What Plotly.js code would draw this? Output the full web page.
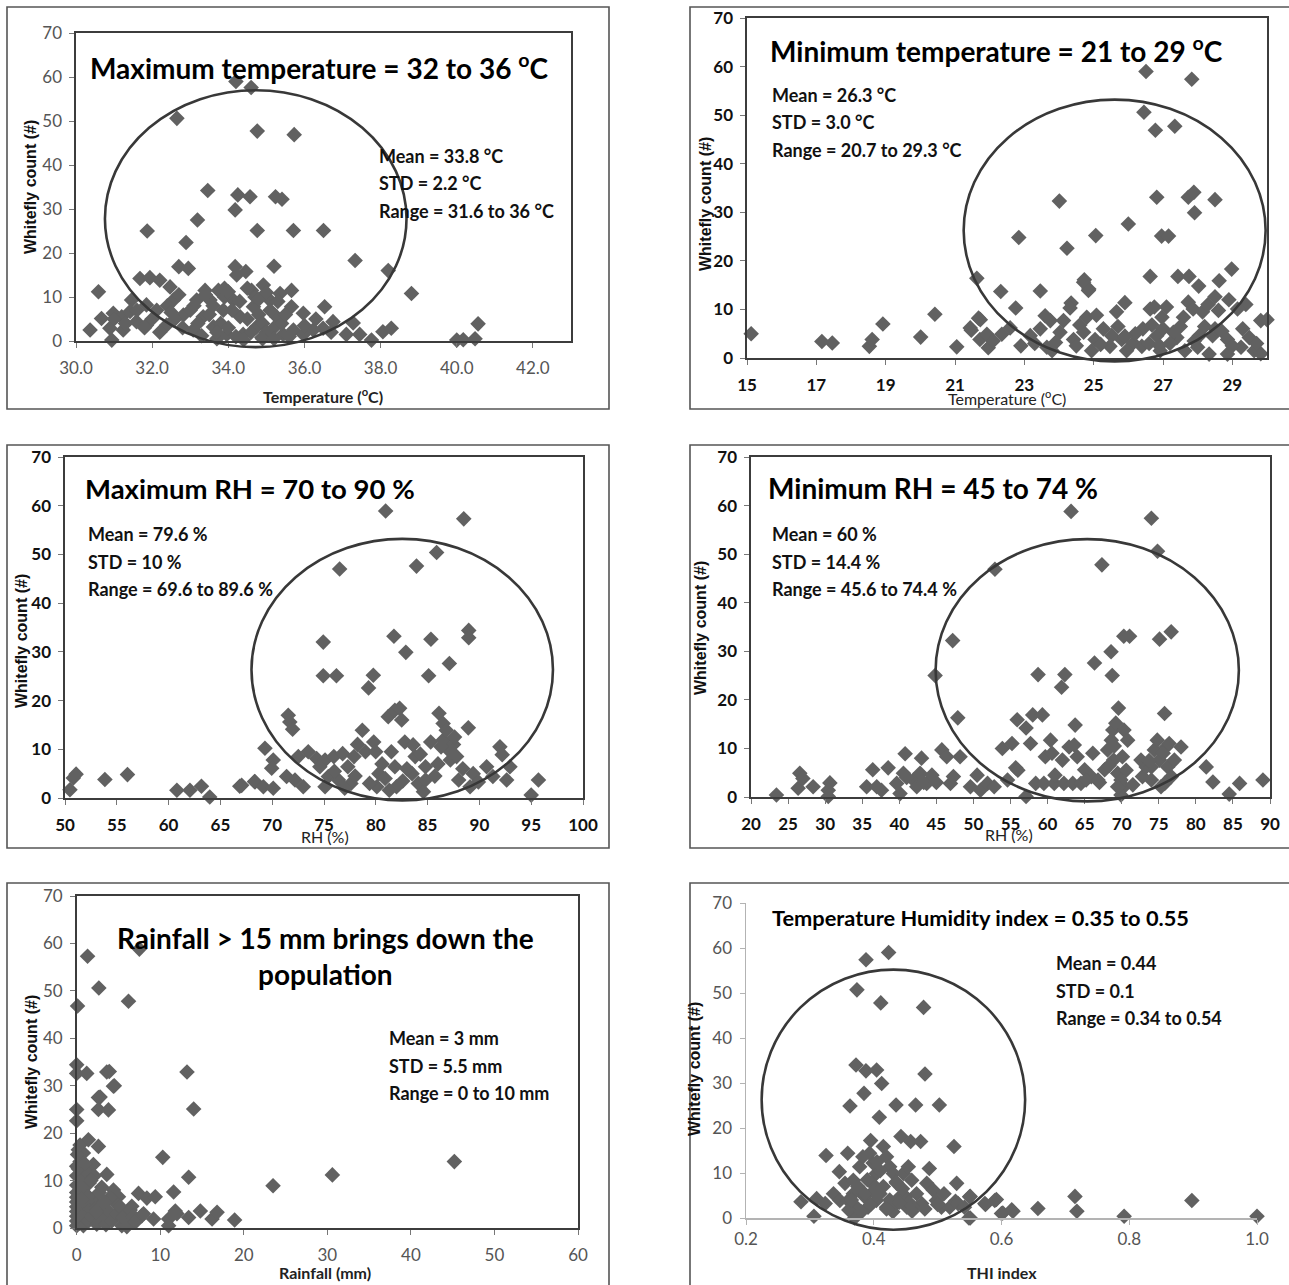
<!DOCTYPE html>
<html>
<head>
<meta charset="utf-8">
<script src="https://cdn.plot.ly/plotly-3.0.1.min.js"></script>
<style>html,body{margin:0;padding:0;background:#fff;}#chart{width:1289px;height:1285px;}</style>
</head>
<body>
<div id="chart"></div>
<script>
// ---------------- DATA ----------------
// Panel 1: maximum temperature (°C) vs whitefly count
const p1x = [34.2,34.6,32.65,34.76,35.73,33.46,34.25,34.57,35.24,35.41,33.19,34.18,31.87,34.76,35.71,36.5,32.89,37.33,32.7,32.95,34.18,34.22,34.46,35.2,38.2,38.81,30.59,
30.37,30.67,30.94,30.89,30.98,31.2,31.24,31.46,31.42,31.59,31.68,31.94,31.85,31.85,32.12,32.2,32.38,32.47,32.56,32.82,33.08,33.17,33.39,33.34,33.52,33.61,33.74,33.87,33.96,34.13,34.31,34.39,34.61,34.66,34.74,34.92,34.88,35.09,35.27,35.36,35.44,35.66,35.66,35.71,35.97,35.97,36.23,36.53,36.49,36.75,37.1,37.28,37.45,37.76,38.06,38.28,40.0,40.17,40.48,40.56,
33.5,33.6,33.8,33.9,34.0,34.1,34.2,34.3,34.5,34.6,34.7,34.8,34.9,35.0,35.1,35.2,35.3,35.4,35.5,35.6,33.2,33.0,32.8,32.6,32.4,32.2,32.0,31.8,31.6,31.3,31.0,33.3,33.7,34.4,34.9,35.2,36.0,36.3,36.7,33.4,34.0,34.8,35.0,33.9,32.7,32.5,33.1,33.7,34.5];
const p1y = [59,57.6,50.6,47.7,46.9,34.2,33.2,32.8,32.8,32.2,27.5,29.8,25.0,25.1,25.1,25.1,22.4,18.3,16.9,16.5,16.9,15.0,15.8,17.0,16.0,10.8,11.2,
2.5,5.1,0.2,2.9,6.3,5.5,2.5,9.3,6.7,4.4,14.2,14.4,8.2,3.6,7.0,13.8,3.6,12.3,9.3,5.9,2.5,9.3,11.5,5.5,9.3,3.2,11.5,7.0,1.5,9.3,5.5,1.5,11.5,7.8,3.2,12.7,0.8,9.3,5.5,10.8,1.5,11.5,7.8,2.5,6.3,1.5,2.5,7.8,2.9,4.4,1.5,4.1,1.5,0.2,2.1,2.9,0.2,0.3,0.5,3.9,
6,8,4,10,3,7,1,9,5,2,10,6,4,2,7,3,9,4,6,1,4,7,3,5,8,2,5,3,7,4,5,1.2,0.5,0.3,0.5,0.5,3.5,5,2,10.5,11.2,9.5,11,12,10.5,6.5,8,2,12];

// Panel 2: minimum temperature (°C)
const p2x = [26.51,27.83,26.45,26.78,27.34,24.01,26.82,27.73,27.89,28.5,27.91,26.0,22.84,25.06,26.96,27.16,24.23,28.98,21.63,26.63,27.43,27.75,28.03,28.62,24.73,24.86,22.32,23.46,22.75,24.35,25.9,26.75,29.39,15.12,17.16,17.46,18.53,18.61,18.92,20.01,20.42,21.05,21.47,21.73,30.0,
21.68,21.44,21.72,21.96,21.92,22.35,22.59,23.17,23.6,23.75,23.46,23.65,24.03,24.13,24.32,24.42,24.71,24.85,24.71,24.8,25.08,25.04,24.94,25.28,25.52,25.66,25.81,26.14,26.39,26.63,26.68,26.82,26.92,26.97,27.4,27.59,27.73,27.87,28.0,28.14,28.33,28.43,28.5,28.6,28.86,29.15,29.25,29.49,29.63,29.82,29.82,28.86,27.63,25.95,25.47,26.42,27.3,28.5,28.05,
22.1,22.9,23.3,23.9,24.5,25.2,25.7,26.2,26.6,27.0,27.2,27.5,27.9,28.2,28.7,29.0,29.3,29.7,27.1,28.3,28.9,26.9,25.9,24.6,23.8];
const p2y = [59.0,57.4,50.6,46.9,47.7,32.3,33.1,33.1,34.1,32.6,29.9,27.6,24.8,25.2,25.1,25.1,22.6,18.3,16.4,16.8,16.8,16.8,14.8,15.9,16.1,14.2,13.7,13.8,10.3,11.3,11.4,10.5,11.0,5.0,3.4,3.1,2.4,3.8,7.0,4.3,9.0,2.3,5.7,7.9,7.9,
8.2,6.2,3.8,2.1,4.9,4.9,6.2,4.6,8.7,7.7,6.0,2.2,5.3,7.7,10.3,3.8,15.6,13.9,5.3,8.4,8.8,3.8,1.5,6.0,4.6,9.5,3.8,3.1,2.4,10.1,6.8,4.6,1.5,8.4,4.2,8.4,11.5,10.1,2.2,9.5,0.8,4.6,12.6,9.8,3.8,10.1,2.2,4.2,1.5,0.9,7.7,0.8,1.5,1.5,2.4,6.0,5.3,6.0,4.6,
3.5,2.5,3.0,3.2,2.5,2.8,6.5,5.0,3.0,6.0,3.0,6.5,3.5,6.5,5.5,2.5,6.0,3.0,10.5,11.0,12.0,2.5,4.5,6.8,1.5];

// Panel 3: maximum RH (%)
const p3x = [80.95,88.49,85.87,76.51,83.93,74.93,81.75,85.32,88.97,88.97,82.9,87.1,74.93,76.2,79.76,79.3,85.1,
50.48,50.8,51.07,53.85,56.03,60.8,62.06,63.17,63.97,66.87,68.3,
71.55,71.7,71.97,69.3,70.1,69.95,67.05,68.34,69.15,70.1,71.39,72.2,73.0,73.48,72.52,74.29,75.1,74.6,75.42,75.1,75.95,76.4,76.8,77.3,77.6,78.24,77.9,78.7,79.0,79.8,79.99,80.3,80.1,80.9,81.2,81.84,82.3,82.5,81.5,81.84,82.0,82.8,83.6,83.8,83.5,84.1,84.6,84.8,85.3,86.1,86.5,86.5,86.99,86.8,87.2,87.5,87.8,88.0,88.93,89.4,89.9,89.1,90.7,91.3,91.98,92.2,92.63,92.95,95.0,95.7,84.8,81.3,
76.0,78.0,80.6,83.0,85.7,86.3,87.6,88.4,84.3,82.6,79.4,77.0,86.0,87.3];
const p3y = [58.9,57.3,50.4,47.0,47.6,32.0,33.2,32.6,34.4,32.9,29.9,27.6,25.1,25.1,25.2,22.6,25.1,
1.7,4.1,4.9,3.8,4.8,1.6,1.6,2.4,0.2,2.4,3.4,
17.0,15.6,14.1,10.2,7.8,6.1,2.6,3.3,2.3,2.0,4.4,3.7,2.3,9.5,8.5,8.1,7.8,6.4,4.4,2.3,8.5,3.7,9.1,6.4,3.0,11.0,8.5,13.9,9.5,11.5,9.5,5.0,2.3,4.0,16.7,18.0,18.4,16.0,9.5,6.4,2.3,11.5,10.9,8.5,5.0,3.0,1.3,6.4,11.5,17.4,15.3,11.9,9.9,13.9,7.8,11.0,8.5,3.7,14.4,5.0,3.3,2.3,6.4,4.4,10.5,8.9,3.7,6.4,0.6,3.7,3.7,1.6,
5.5,4.5,7.0,6.0,4.5,10.5,12.5,6.0,9.0,3.5,3.0,2.0,7.0,9.5];

// Panel 4: minimum RH (%)
const p4x = [63.17,74.0,74.83,52.9,67.33,47.2,70.28,71.06,75.1,76.67,68.56,66.33,44.83,58.72,62.33,68.72,61.89,47.89,69.56,75.78,63.72,
23.43,26.58,26.36,28.38,30.64,30.42,30.42,36.42,35.6,36.96,37.6,38.5,40.79,40.1,40.56,39.65,41.9,42.36,43.0,42.8,43.7,44.4,45.74,46.4,46.9,47.3,48.2,49.6,50.5,50.95,51.9,52.8,53.9,54.6,55.2,55.7,55.9,57.1,57.1,58.0,59.3,57.7,58.4,59.5,59.7,60.4,60.6,60.9,62.2,62.0,62.9,63.6,64.0,63.4,64.5,65.0,65.9,66.1,65.2,67.7,68.1,68.6,68.8,69.2,68.9,69.45,69.9,70.3,70.1,70.3,69.9,70.8,72.6,72.8,73.3,74.0,74.4,74.8,75.1,75.3,76.0,76.2,76.7,77.1,78.0,81.4,82.3,84.5,85.9,89.05,75.8,74.0,69.45,
27.0,41.0,43.3,45.0,56.0,61.0,67.0,68.3,70.6,71.5,73.7,75.6,76.4,69.0,66.8];
const p4y = [58.8,57.4,50.6,46.9,47.8,32.2,33.1,33.1,32.5,34.0,29.9,27.6,25.0,25.2,25.2,25.0,22.6,16.3,18.3,17.2,14.8,
0.4,4.9,1.8,2.1,2.9,1.4,0.1,5.6,2.1,2.1,1.4,6.0,8.9,0.7,4.9,2.8,3.5,2.1,8.0,4.9,2.8,4.5,9.7,8.3,2.8,4.2,8.3,2.1,4.5,1.4,2.8,2.1,10.0,3.5,11.0,6.0,15.9,0.1,14.2,16.9,16.9,11.0,2.8,2.8,8.3,11.7,9.0,2.8,2.8,7.6,10.3,10.7,8.3,2.8,2.8,5.6,4.2,9.0,3.5,5.6,9.7,11.7,13.8,15.2,7.6,4.9,3.5,13.8,8.3,2.1,0.4,11.7,7.6,4.2,6.2,3.5,9.7,11.7,7.6,2.1,10.3,6.2,4.2,7.6,10.3,6.2,3.1,0.6,2.8,3.5,2.8,6.2,2.1,
3.8,4.0,3.0,3.0,5.5,4.5,3.0,6.5,5.5,2.5,7.5,9.0,11.0,10.5,3.5];

// Panel 5: rainfall (mm)
const p5x = [1.3,2.65,0.1,6.2,7.5,3.9,4.5,2.8,45.2,30.6,13.2,14.0,10.3,
0.0,0.0,1.2,3.6,4.4,2.6,2.6,3.8,0.0,0.0,13.4,23.5,1.4,2.6,0.2,0.8,2.0,3.6,4.4,5.0,7.4,8.4,9.4,11.6,6.6,7.8,9.2,11.0,11.8,13.4,14.8,16.2,16.8,18.9,11.0,5.4,6.0,3.4,2.2,1.0,3.0,4.6,5.6,
0,0,0,0,0,0,0,0,0,0,0,0.3,0.3,0.5,0.5,0.6,0.8,0.9,1.0,1.1,1.2,1.4,1.5,1.6,1.8,2.0,2.1,2.4,2.5,2.7,3.0,3.2,3.5,3.8,4.0,4.2,4.8,5.2,5.5,6.0,6.4,6.8,7.0,8.0,0.4,0.7,1.3,1.7,2.3,3.3,0.2,0.6,1.0,0.1,0.4,12.0];
const p5y = [57.3,50.6,46.8,47.8,58.8,33.0,30.0,27.6,14.0,11.2,32.9,25.1,14.9,
34.4,32.6,32.6,32.9,29.9,27.5,25.0,24.9,25.0,22.6,10.7,8.9,18.6,17.2,16.5,15.8,13.4,11.3,8.0,6.6,7.3,6.3,6.6,7.6,4.6,2.6,1.9,1.9,3.6,2.2,3.6,1.9,3.3,1.7,0.5,0.5,1.5,1.9,4.6,6.6,8.6,5.3,3.2,
0.5,1.5,2.5,3.5,4.5,5.5,6.5,7.5,9,11,13,1.0,4.0,2.0,8.0,10.5,0.5,5.5,3.0,12.0,7.0,1.5,9.5,4.0,2.5,6.0,11.0,0.8,4.5,7.5,2.0,5.0,0.7,3.5,6.5,1.5,3.0,4.5,2.2,0.3,3.8,2.5,1.2,3.0,14.0,9.0,6.5,10.0,3.5,5.5,12.5,6.0,13.5,15.5,17.5,3.0];

// Panel 6: THI index
const p6x = [0.4233,0.3879,0.3737,0.411,0.478,0.715,0.718,0.792,0.898,1.0,0.657,0.618,0.602,0.592,0.575,0.551,0.551,0.528,
0.3722,0.3878,0.4045,0.4124,0.4802,0.3847,0.3628,0.4349,0.4656,0.5027,0.4087,0.3951,0.4426,0.4578,0.4734,0.5256,0.3253,0.3592,0.3461,0.487,0.5298,0.2861,0.3064,0.3106,0.324,0.337,0.347,0.355,0.368,0.37,0.378,0.383,0.3935,0.399,0.404,0.4097,0.415,0.42,0.425,0.4306,0.436,0.441,0.4463,0.4541,0.4594,0.467,0.475,0.483,0.493,0.498,0.506,0.519,0.532,0.542,0.55,0.549,0.574,0.5895,0.6,0.616,0.36,0.373,0.386,0.391,0.42,0.43,0.452,0.462,0.404,0.378,0.397,0.368,0.361,0.381,0.43,0.45,0.51,
0.39,0.4,0.41,0.415,0.425,0.435,0.445,0.455,0.405,0.395,0.385,0.375,0.365,0.42,0.44,0.46,0.48,0.5];
const p6y = [59.0,57.4,50.7,47.8,46.8,4.8,1.5,0.4,3.9,0.4,2.1,1.5,1.1,4.1,3.0,4.8,0.0,3.7,
34.0,32.7,32.9,29.9,32.0,27.7,24.9,25.1,25.1,25.1,22.4,17.2,18.1,17.0,17.0,15.9,13.9,14.4,10.3,11.0,7.7,3.6,0.4,4.3,3.2,5.4,3.9,7.7,8.4,0.0,11.4,13.6,14.4,12.2,9.9,5.4,15.9,13.6,11.4,9.9,7.7,4.7,9.9,11.4,8.4,5.4,3.2,7.7,6.2,3.9,2.4,2.4,3.2,2.4,4.7,0.0,3.2,3.9,1.0,1.8,3.9,2.4,4.7,2.4,2.4,2.4,2.4,2.4,3.9,6.2,7.7,5.4,1.8,1.4,1.4,4.7,5.4,
8.5,6.0,10.5,7.0,4.0,8.0,6.5,3.5,12.5,3.0,5.5,7.0,4.0,2.0,3.5,1.5,2.0,3.0];

// Text
const titles = [
  'Maximum temperature = 32 to 36 <sup>o</sup>C',
  'Minimum temperature = 21 to 29 <sup>o</sup>C',
  'Maximum RH = 70 to 90 %',
  'Minimum RH = 45 to 74 %',
  'Rainfall > 15 mm brings down the<br>population',
  'Temperature Humidity index = 0.35 to 0.55'];
const stats = [
  ['Mean = 33.8 °C','STD = 2.2 °C','Range = 31.6 to 36 °C'],
  ['Mean = 26.3 °C','STD = 3.0 °C','Range = 20.7 to 29.3 °C'],
  ['Mean = 79.6 %','STD = 10 %','Range = 69.6 to 89.6 %'],
  ['Mean = 60 %','STD = 14.4 %','Range = 45.6 to 74.4 %'],
  ['Mean = 3 mm','STD = 5.5 mm','Range = 0 to 10 mm'],
  ['Mean = 0.44','STD = 0.1','Range = 0.34 to 0.54']];
const xTitles = ['Temperature (<sup>o</sup>C)','Temperature (<sup>o</sup>C)','RH (%)','RH (%)','Rainfall (mm)','THI index'];
const yTitle = 'Whitefly count (#)';
const xRanges = [[30,43],[15,30],[50,100],[20,90],[0,60],[0.2,1.0]];
const xTicks = [2,2,5,5,10,0.2];
const ellipses = [ // [x0,x1,y0,y1] in data units, null = none
  [30.76,38.68,-1.4,57.0],
  [21.25,29.96,-0.7,53.2],
  [68.0,97.1,-0.5,53.2],
  [44.9,85.8,-0.9,53.1],
  null,
  [0.2245,0.637,-2.6,55.2]];

// ---------------- LAYOUT (pixel geometry) ----------------
const W = 1289, H = 1285;
const NARROW = 'Lato, "Liberation Sans Narrow", sans-serif';
const WIDE = '"Liberation Sans", Arial, sans-serif';
const plotBox = [
  {x0:76, x1:571, y0:33, y1:341},
  {x0:747, x1:1267, y0:18, y1:358},
  {x0:65, x1:583, y0:457, y1:798},
  {x0:751, x1:1270, y0:457, y1:797},
  {x0:76.7, x1:578, y0:896, y1:1228},
  {x0:746, x1:1257, y0:903, y1:1218}];
const outerBox = [
  {x0:7, x1:609, y0:7, y1:409},
  {x0:690, x1:1300, y0:7, y1:409},
  {x0:7, x1:609, y0:445, y1:848},
  {x0:690, x1:1300, y0:445, y1:848},
  {x0:7, x1:609, y0:883, y1:1300},
  {x0:690, x1:1300, y0:883, y1:1300}];
const titlePos = [[319,66,28],[997,50,28],[250,488,27.5],[933,488,28],[325,956,28],[980,917,21.8]];
const statPos = [[377,156],[770,95],[86,534],[770,534],[387,1038],[1054,963]];
const statGap = 27.5;
const xTitlePos = [[323,395,true],[1007,397,false],[325,836,false],[1009,834,false],[325,1272,true],[1002,1272,true]];
const yTitlePos = [[30,187],[705,204],[21,641],[700,628],[31,1062],[694,1069]];
const boldTicks = [false,true,true,true,false,false];

const px = v => v / W;
const py = v => 1 - v / H;

const traces = [];
const xs = [p1x,p2x,p3x,p4x,p5x,p6x];
const ys = [p1y,p2y,p3y,p4y,p5y,p6y];
const layout = {
  width: W, height: H, margin:{l:0,r:0,t:0,b:0},
  paper_bgcolor:'#fff', plot_bgcolor:'rgba(0,0,0,0)', showlegend:false,
  shapes: [], annotations: []
};

for (let i = 0; i < 6; i++) {
  const n = i === 0 ? '' : String(i + 1);
  const b = plotBox[i];
  const last = i === 5;
  const lineCol = last ? '#b3b3b3' : '#3c3c3c';
  const tickCol = boldTicks[i] ? '#111' : '#555';
  const tfont = {family: NARROW, size: 17, color: tickCol, weight: boldTicks[i] ? 'bold' : 'normal'};
  traces.push({
    type:'scatter', mode:'markers', x: xs[i], y: ys[i],
    xaxis:'x'+n, yaxis:'y'+n, cliponaxis:false, hoverinfo:'skip',
    marker:{symbol:'diamond', size:12, color:'#616161', line:{width:0}}
  });
  layout['xaxis'+n] = {
    domain:[px(b.x0), px(b.x1)], anchor:'y'+n, range:xRanges[i], dtick:xTicks[i], tick0:xRanges[i][0],
    tickformat: (i===0 || i===5) ? '.1f' : '', showgrid:false, zeroline:false,
    showline:true, mirror: !last, linecolor:lineCol, linewidth: last ? 1.5 : 1.6,
    ticks:'outside', ticklen:5, tickcolor: last ? '#b3b3b3' : '#777', tickwidth:1,
    tickfont:tfont, ticklabelstandoff: last ? 0 : 6, fixedrange:true
  };
  layout['yaxis'+n] = {
    domain:[py(b.y1), py(b.y0)], anchor:'x'+n, range:[0,70], dtick:10,
    showgrid:false, zeroline:false, showline:true, mirror: !last,
    linecolor:lineCol, linewidth: last ? 1.5 : 1.6,
    ticks:'outside', ticklen:5, tickcolor: last ? '#b3b3b3' : '#777', tickwidth:1,
    tickfont:tfont, ticklabelstandoff:4, fixedrange:true
  };
  // outer panel border
  const o = outerBox[i];
  layout.shapes.push({type:'rect', xref:'paper', yref:'paper',
    x0:px(o.x0), x1:px(o.x1), y0:py(o.y1), y1:py(o.y0),
    line:{color:'#555', width:1.6}, fillcolor:'rgba(0,0,0,0)', layer:'below'});
  // ellipse (converted from data units through the axis mapping so it is not clipped)
  const e = ellipses[i];
  if (e) {
    const r = xRanges[i];
    const fx = v => px(b.x0 + (v - r[0]) / (r[1] - r[0]) * (b.x1 - b.x0));
    const fy = v => py(b.y1 - (v - 0) / 70 * (b.y1 - b.y0));
    layout.shapes.push({type:'circle', xref:'paper', yref:'paper',
      x0:fx(e[0]), x1:fx(e[1]), y0:fy(e[2]), y1:fy(e[3]),
      line:{color:'#383838', width:2.6}, layer:'above'});
  }
  // panel headline
  const t = titlePos[i];
  layout.annotations.push({xref:'paper', yref:'paper', x:px(t[0]), y:py(t[1]),
    xanchor:'center', yanchor:'middle', showarrow:false, text:titles[i],
    font:{family:NARROW, size:t[2], color:'#000', weight:'bold'}});
  // stats
  const s = statPos[i];
  stats[i].forEach((txt, k) => {
    layout.annotations.push({xref:'paper', yref:'paper', x:px(s[0]), y:py(s[1] + k*statGap),
      xanchor:'left', yanchor:'middle', showarrow:false, text:txt,
      font:{family:NARROW, size:18, color:'#111', weight:'bold'}});
  });
  // axis titles
  const xt = xTitlePos[i];
  layout.annotations.push({xref:'paper', yref:'paper', x:px(xt[0]), y:py(xt[1]),
    xanchor:'center', yanchor:'middle', showarrow:false, text:xTitles[i],
    font:{family:NARROW, size:16, color:'#222', weight: xt[2] ? 'bold' : 'normal'}});
  const yt = yTitlePos[i];
  layout.annotations.push({xref:'paper', yref:'paper', x:px(yt[0]), y:py(yt[1]),
    xanchor:'center', yanchor:'middle', showarrow:false, textangle:-90, text:yTitle,
    font:{family:WIDE, size:16, color:'#111', weight:'bold'}});
}

Plotly.newPlot('chart', traces, layout, {displayModeBar:false, staticPlot:true});
</script>
</body>
</html>
